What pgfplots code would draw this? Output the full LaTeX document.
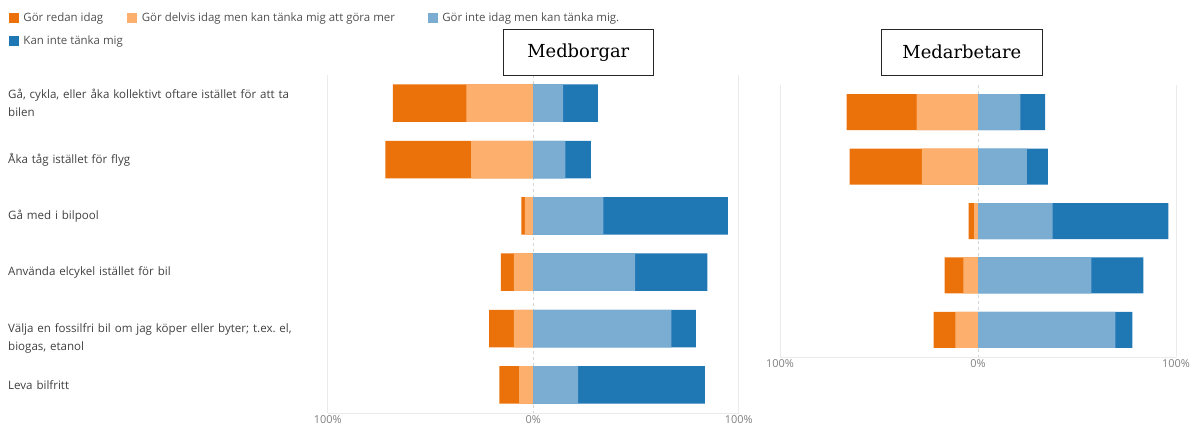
\documentclass[border=0pt]{standalone}
\usepackage{pgfplots}
\usepackage{pgfplotstable}
\pgfplotsset{compat=1.18}
\usepackage{fontspec}
\setmainfont{Open Sans}
\newfontfamily\boxfont{DejaVu Serif}
\frenchspacing

\definecolor{dorange}{RGB}{235,113,10}
\definecolor{lorange}{RGB}{253,176,110}
\definecolor{lblue}{RGB}{123,173,210}
\definecolor{dblue}{RGB}{31,119,180}
\definecolor{labtext}{RGB}{64,64,64}
\definecolor{legtext}{RGB}{80,80,80}
\definecolor{ticktext}{RGB}{128,128,128}
\definecolor{gridc}{RGB}{235,235,235}

% columns: redan = Gör redan idag, delvis = Gör delvis idag..., inte = Gör inte idag men kan tänka mig., kan = Kan inte tänka mig
\pgfplotstableread{
idx redan delvis inte kan
1 35.8 32.5 14.6 16.9
2 41.7 30.2 15.7 12.4
3 1.6 4.1 34.1 60.6
4 6.3 9.4 49.6 35.1
5 12.0 9.4 67.2 12.0
6 9.6 6.8 21.9 61.6
}\medborgar

\pgfplotstableread{
idx redan delvis inte kan
1 35.3 31.0 21.4 12.5
2 36.5 28.3 24.7 10.6
3 2.7 2.0 37.7 58.4
4 9.4 7.4 57.2 26.3
5 11.0 11.4 69.4 8.6
}\medarbetare

\pgfplotsset{
  divstyle/.style={
    scale only axis,
    xmin=-100, xmax=100,
    y dir=reverse,
    xtick={-100,100},
    xticklabels={100\%,100\%},
    extra x ticks={0},
    extra x tick labels={0\%},
    extra x tick style={major grid style={draw=gridc!80!gray, dash pattern=on 3bp off 3bp, line width=0.8bp}},
    xmajorgrids,
    major grid style={draw=gridc, line width=1bp},
    major tick length=0pt,
    axis x line*=bottom,
    axis y line*=left,
    axis line style={-},
    x axis line style={draw=gridc, line width=1bp},
    y axis line style={draw=none},
    xticklabel style={font=\fontsize{11}{12}\selectfont, text=ticktext, inner sep=0pt, anchor=north, yshift=-2bp},
    clip=false,
  },
  barsty/.style={xbar, bar shift=0pt, draw=none, forget plot},
}

\begin{document}
\begin{tikzpicture}
\useasboundingbox (0,0) rectangle (1198bp,431bp);

% ---------- Medborgar ----------
\begin{axis}[
  divstyle,
  at={(327.7bp,18bp)}, anchor=south west,
  width=411bp, height=338bp,
  ymin=0.5, ymax=6.5,
  ytick={1,2,3,4,5,6},
  yticklabels={
    {Gå, cykla, eller åka kollektivt oftare istället för att ta\\bilen},
    {Åka tåg istället för flyg},
    {Gå med i bilpool},
    {Använda elcykel istället för bil},
    {\rule{0pt}{29bp}Välja en fossilfri bil om jag köper eller byter; t.ex. el,\\biogas, etanol},
    {Leva bilfritt}},
  yticklabel style={anchor=west, xshift=-319.7bp, inner sep=0pt, text width=310bp, align=left,
    font=\fontsize{11.6}{18.3}\selectfont, text=labtext},
  legend columns=3,
  legend cell align=left,
  legend style={at={(-0.7830,1.1905)}, anchor=north west, draw=none, fill=none,
    font=\fontsize{11.5}{12}\selectfont, text=legtext,
    nodes={inner sep=0pt},
    column sep=0pt, row sep=13bp,
    /tikz/every odd column/.append style={column sep=5bp}},
  bar width=37.5bp,
]
\addlegendimage{legend image code/.code={\fill[dorange] (0bp,-4.5bp) rectangle (9bp,4.5bp);}}
\addlegendentry{\makebox[104bp][l]{Gör redan idag}}
\addlegendimage{legend image code/.code={\fill[lorange] (0bp,-4.5bp) rectangle (9bp,4.5bp);}}
\addlegendentry{\makebox[286bp][l]{Gör delvis idag men kan tänka mig att göra mer}}
\addlegendimage{legend image code/.code={\fill[lblue] (0bp,-4.5bp) rectangle (9bp,4.5bp);}}
\addlegendentry{Gör inte idag men kan tänka mig.}
\addlegendimage{legend image code/.code={\fill[dblue] (0bp,-4.5bp) rectangle (9bp,4.5bp);}}
\addlegendentry{\makebox[104bp][l]{Kan inte tänka mig}}

\addplot[barsty, fill=dorange] table[y=idx, x expr=-\thisrow{redan}-\thisrow{delvis}] {\medborgar};
\addplot[barsty, fill=lorange] table[y=idx, x expr=-\thisrow{delvis}] {\medborgar};
\addplot[barsty, fill=dblue] table[y=idx, x expr=\thisrow{inte}+\thisrow{kan}] {\medborgar};
\addplot[barsty, fill=lblue] table[y=idx, x=inte] {\medborgar};
\end{axis}

% ---------- Medarbetare ----------
\begin{axis}[
  divstyle,
  at={(780bp,74bp)}, anchor=south west,
  width=396bp, height=272bp,
  ymin=0.5, ymax=5.5,
  ytick=\empty,
  bar width=36bp,
]
\addplot[barsty, fill=dorange] table[y=idx, x expr=-\thisrow{redan}-\thisrow{delvis}] {\medarbetare};
\addplot[barsty, fill=lorange] table[y=idx, x expr=-\thisrow{delvis}] {\medarbetare};
\addplot[barsty, fill=dblue] table[y=idx, x expr=\thisrow{inte}+\thisrow{kan}] {\medarbetare};
\addplot[barsty, fill=lblue] table[y=idx, x=inte] {\medarbetare};
\end{axis}

% title boxes
\node[draw=black!85, line width=0.9bp, fill=white, minimum width=150bp, minimum height=45.7bp, inner sep=0pt]
  at (578.3bp,378.8bp) {\boxfont\fontsize{18}{20}\selectfont Medborgar};
\node[draw=black!85, line width=0.9bp, fill=white, minimum width=161.7bp, minimum height=45.7bp, inner sep=0pt]
  at (961.9bp,378.8bp) {\boxfont\fontsize{18}{20}\selectfont Medarbetare};
\end{tikzpicture}
\end{document}
